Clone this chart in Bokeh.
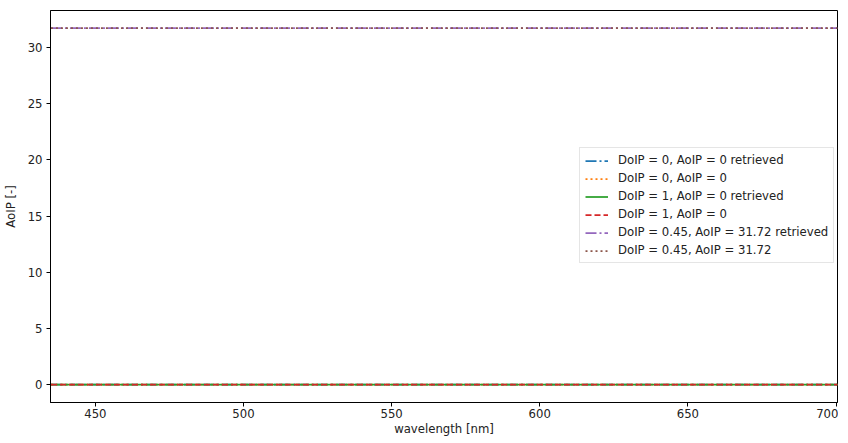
from bokeh.plotting import figure
from bokeh.models import Range1d, Legend, LegendItem, FixedTicker
from bokeh.embed import file_html
from bokeh.resources import INLINE

wavelength = [435, 460, 485, 510, 535, 560, 585, 610, 635, 660, 685, 700.5]
aolp_0_retrieved = [0.0] * len(wavelength)
aolp_0_true = [0.0] * len(wavelength)
aolp_1_retrieved = [0.0] * len(wavelength)
aolp_1_true = [0.0] * len(wavelength)
aolp_045_retrieved = [31.72] * len(wavelength)
aolp_045_true = [31.72] * len(wavelength)

labels = [
    "DoIP = 0, AoIP = 0 retrieved",
    "DoIP = 0, AoIP = 0",
    "DoIP = 1, AoIP = 0 retrieved",
    "DoIP = 1, AoIP = 0",
    "DoIP = 0.45, AoIP = 31.72 retrieved",
    "DoIP = 0.45, AoIP = 31.72",
]
x_ticks = [450, 500, 550, 600, 650, 700]
y_ticks = [0, 5, 10, 15, 20, 25, 30]

FONT = "DejaVu Sans"
FS = "11.7px"

p = figure(width=838, height=438, output_backend="svg", toolbar_location=None,
           x_range=Range1d(434.85, 700.5), y_range=Range1d(-1.6, 33.3),
           min_border_left=46, min_border_right=1, min_border_top=10, min_border_bottom=30)

p.grid.visible = False
p.outline_line_color = "black"
p.outline_line_width = 1
p.background_fill_color = "white"
p.border_fill_color = "white"

for ax in (p.xaxis[0], p.yaxis[0]):
    ax.major_tick_in = 0
    ax.major_tick_out = 4
    ax.minor_tick_line_color = None
    ax.axis_line_color = "black"
    ax.major_tick_line_color = "black"
    ax.major_label_text_font = FONT
    ax.major_label_text_font_size = FS
    ax.major_label_text_color = "#222222"
    ax.axis_label_text_font = FONT
    ax.axis_label_text_font_size = FS
    ax.axis_label_text_font_style = "normal"
    ax.axis_label_text_color = "#222222"

p.xaxis.ticker = FixedTicker(ticks=x_ticks)
p.yaxis.ticker = FixedTicker(ticks=y_ticks)
p.xaxis.axis_label = "wavelength [nm]"
p.yaxis.axis_label = "AoIP [-]"
p.xaxis.major_label_standoff = 2
p.xaxis.axis_label_standoff = 1
p.yaxis.major_label_standoff = 4
p.yaxis.axis_label_standoff = 7

series = [
    (aolp_0_retrieved, "#1f77b4", "11 3 2 3"),
    (aolp_0_true, "#ff7f0e", "2 3"),
    (aolp_1_retrieved, "#2ca02c", "solid"),
    (aolp_1_true, "#d62728", "6 3"),
    (aolp_045_retrieved, "#9467bd", "11 3 2 3"),
    (aolp_045_true, "#8c564b", "2 3"),
]

items = []
for (vals, color, dash), lab in zip(series, labels):
    r = p.line(wavelength, vals, line_color=color, line_width=1.75, line_dash=dash)
    items.append(LegendItem(label=lab, renderers=[r]))

legend = Legend(items=items, location=(529, 139))
legend.label_text_font = FONT
legend.label_text_font_size = FS
legend.label_text_color = "#222222"
legend.glyph_width = 23
legend.glyph_height = 13
legend.label_height = 13
legend.label_standoff = 10
legend.spacing = 4
legend.padding = 5
legend.margin = 0
legend.border_line_color = "#cccccc"
legend.border_line_width = 1
legend.background_fill_alpha = 0.8
p.add_layout(legend, "center")

open("out.html", "w").write(file_html(p, INLINE))
